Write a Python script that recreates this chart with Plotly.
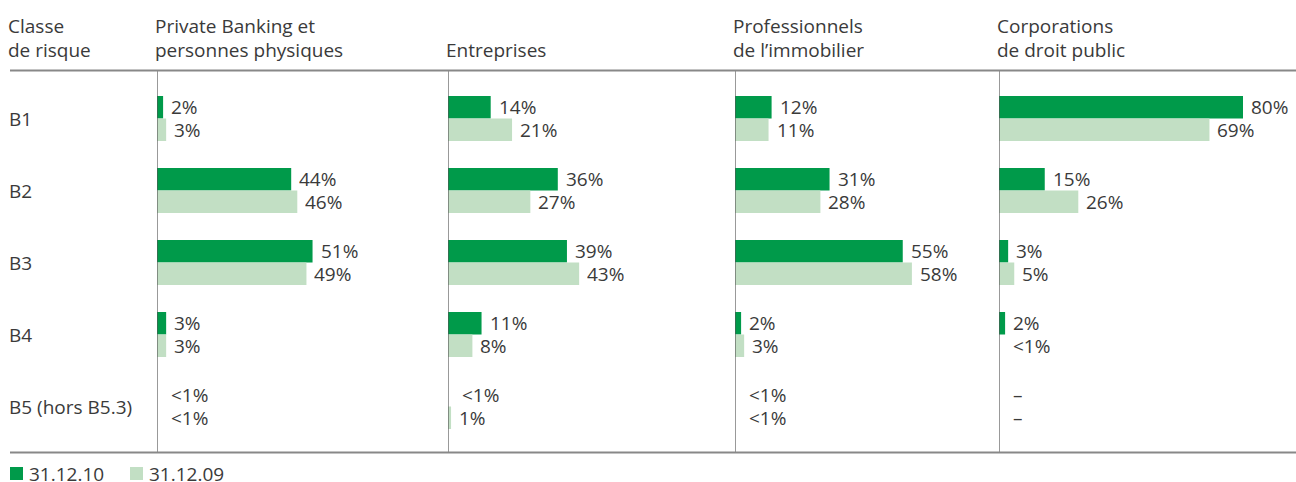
import plotly.graph_objects as go

W, H = 1296, 482

# ---- data ---------------------------------------------------------------
classes = ["B1", "B2", "B3", "B4", "B5 (hors B5.3)"]
segments = [
    ["Private Banking et", "personnes physiques"],
    ["Entreprises"],
    ["Professionnels", "de l’immobilier"],
    ["Corporations", "de droit public"],
]
series_names = ["31.12.10", "31.12.09"]

# share of each risk class in %, "<1%" / "–" are shown as text only
pb_2010 = [2, 44, 51, 3, "<1%"]
pb_2009 = [3, 46, 49, 3, "<1%"]
ent_2010 = [14, 36, 39, 11, "<1%"]
ent_2009 = [21, 27, 43, 8, 1]
immo_2010 = [12, 31, 55, 2, "<1%"]
immo_2009 = [11, 28, 58, 3, "<1%"]
pub_2010 = [80, 15, 3, 2, "–"]
pub_2009 = [69, 26, 5, "<1%", "–"]

panel_data = [
    (pb_2010, pb_2009),
    (ent_2010, ent_2009),
    (immo_2010, immo_2009),
    (pub_2010, pub_2009),
]

# ---- styling / geometry -------------------------------------------------
DARK = "#009a4a"
LIGHT = "#c2dfc4"
TEXT = "#3a3a3a"
FONT = "Open Sans"
FS = 19
series_colors = [DARK, LIGHT]

edges_px = [157, 448, 735, 999, 1296]   # panel left edges (last = right border)
PX_PER_PCT = 3.05
top_px, bottom_px = 70.5, 452.5
row_pitch = 72.0
first_row_px = 118.5
bar_w = 0.3125


def px_x(p):
    return p / W


def px_y(p):
    return 1 - p / H


def txt_font():
    return dict(family=FONT, size=FS, color=TEXT)


rows = list(range(len(classes)))
y_top_val = -(first_row_px - top_px) / row_pitch
last_row_px = first_row_px + (len(classes) - 1) * row_pitch
y_bot_val = (len(classes) - 1) + (bottom_px - last_row_px) / row_pitch

fig = go.Figure()
annotations = []
shapes = []

for i, (s10, s09) in enumerate(panel_data):
    ax = "x" if i == 0 else f"x{i + 1}"
    for j, (vals, off) in enumerate(((s10, -bar_w), (s09, 0.0))):
        nums = [v if isinstance(v, (int, float)) else None for v in vals]
        fig.add_trace(go.Bar(
            x=nums, y=rows, orientation="h",
            width=bar_w, offset=off,
            marker=dict(color=series_colors[j], line=dict(width=0)),
            name=series_names[j], showlegend=False,
            xaxis=ax, yaxis="y", hoverinfo="skip",
        ))
        for r, v in enumerate(vals):
            numeric = isinstance(v, (int, float))
            annotations.append(dict(
                x=v if numeric else 0, y=r + off + bar_w / 2,
                xref=ax, yref="y",
                text=f"{v}%" if numeric else v,
                xanchor="left", yanchor="middle",
                xshift=7 if numeric else 13,
                height=22, borderpad=0,
                showarrow=False, font=txt_font(),
            ))
    # left border of each panel
    shapes.append(dict(type="line", xref=ax, yref="paper", x0=0, x1=0,
                       y0=px_y(bottom_px), y1=px_y(top_px),
                       line=dict(color="#555555", width=1.2)))
    # panel header
    lines = segments[i]
    for k, txt in enumerate(lines):
        line_px = 50 - (len(lines) - 1 - k) * 24
        annotations.append(dict(
            x=px_x(edges_px[i] - 3), y=px_y(line_px), xref="paper", yref="paper",
            text=txt, xanchor="left", yanchor="middle", showarrow=False,
            height=22, borderpad=0, font=txt_font(),
        ))

# row labels and left header
for r, c in enumerate(classes):
    annotations.append(dict(
        x=px_x(7), y=r, xref="paper", yref="y", text=c,
        xanchor="left", yanchor="middle", showarrow=False, font=txt_font(),
    ))
for k, txt in enumerate(["Classe", "de risque"]):
    annotations.append(dict(
        x=px_x(7), y=px_y(26 + 24 * k), xref="paper", yref="paper",
        text=txt, xanchor="left", yanchor="middle", showarrow=False,
        height=22, borderpad=0, font=txt_font(),
    ))

# horizontal rules above and below the table
for yp in (top_px, bottom_px):
    shapes.append(dict(type="line", xref="paper", yref="paper",
                       x0=px_x(10), x1=1, y0=px_y(yp), y1=px_y(yp),
                       line=dict(color="#888888", width=2)))

# legend: colour swatch + date
legend_x_px = [10, 130]
for j, name in enumerate(series_names):
    x0 = legend_x_px[j]
    shapes.append(dict(type="rect", xref="paper", yref="paper",
                       x0=px_x(x0), x1=px_x(x0 + 13), y0=px_y(480), y1=px_y(467),
                       fillcolor=series_colors[j], line=dict(width=0)))
    annotations.append(dict(
        x=px_x(x0 + 18), y=px_y(473.5), xref="paper", yref="paper", text=name,
        xanchor="left", yanchor="middle", showarrow=False,
        height=22, borderpad=0, font=txt_font(),
    ))

layout = dict(
    width=W, height=H,
    margin=dict(l=0, r=0, t=0, b=0, autoexpand=False),
    paper_bgcolor="white", plot_bgcolor="white",
    barmode="overlay",
    font=txt_font(),
    annotations=annotations, shapes=shapes,
    showlegend=False,
    yaxis=dict(
        domain=[px_y(bottom_px), px_y(top_px)],
        range=[y_bot_val, y_top_val],
        visible=False, fixedrange=True, anchor="x",
    ),
)
for i in range(4):
    key = "xaxis" if i == 0 else f"xaxis{i + 1}"
    width_px = edges_px[i + 1] - edges_px[i]
    layout[key] = dict(
        domain=[px_x(edges_px[i]), px_x(edges_px[i + 1])],
        range=[0, width_px / PX_PER_PCT],
        visible=False, fixedrange=True, anchor="y",
    )

fig.update_layout(**layout)
fig.write_html("out.html")
